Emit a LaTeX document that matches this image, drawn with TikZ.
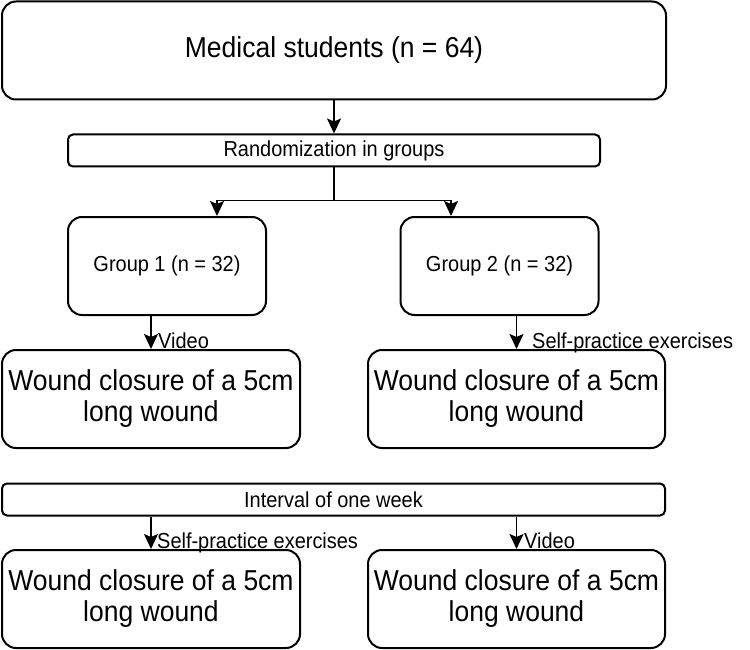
\documentclass[tikz,border=0pt]{standalone}
\usepackage{fontspec}
\setmainfont{Liberation Sans}[FakeStretch=0.92]
\usetikzlibrary{arrows.meta, positioning}
\tikzset{
  flowbox/.style={draw, line width=2pt, rounded corners=14pt, inner sep=0pt,
    align=center, font=\fontsize{28.8}{31}\selectfont},
  groupbox/.style={flowbox, font=\fontsize{21.7}{24}\selectfont},
  thinbox/.style={draw, line width=2pt, rounded corners=5pt, inner sep=0pt,
    font=\fontsize{21.7}{24}\selectfont},
  armlabel/.style={font=\fontsize{21.7}{24}\selectfont, inner sep=0pt, anchor=base west},
  link/.style={-{Stealth[length=15pt 0 0, width=14pt 0 0, inset=3pt 0]}, line width=1.7pt}
}

\begin{document}
\begin{tikzpicture}[x=1pt, y=-1pt]
  \useasboundingbox (0,0) rectangle (750,650);

  % Cohort and randomization
  \node[flowbox, minimum width=664pt, minimum height=98pt] (students) at (334,50.5)
    {Medical students (n = 64)};
  \node[thinbox, minimum width=532pt, minimum height=32pt] (randbox) at (334,150.5)
    {Randomization in groups};
  \draw[link] (students.south) -- (randbox.north);

  % Two groups
  \node[groupbox, minimum width=198pt, minimum height=98pt] (group1) at (167,266)
    {Group 1 (n = 32)};
  \node[groupbox, minimum width=198pt, minimum height=98pt] (group2) at (499.5,266)
    {Group 2 (n = 32)};
  \coordinate (fork) at (334,200.5);
  \draw[line width=1.7pt] (randbox.south) -- (fork);
  \draw[link] (fork) -| ([xshift=50pt]group1.north);
  \draw[link] (fork) -| ([xshift=-48.5pt]group2.north);

  % First wound closure
  \node[flowbox, minimum width=298pt, minimum height=98pt] (wound1) at (151,399)
    {Wound closure of a 5cm\\long wound};
  \node[flowbox, minimum width=297pt, minimum height=98pt] (wound2) at (516.5,399)
    {Wound closure of a 5cm\\long wound};
  \draw[link] (wound1.north |- group1.south) -- (wound1.north);
  \draw[link] (wound2.north |- group2.south) -- (wound2.north);
  \node[armlabel] (video1) at (158,348) {Video};
  \node[armlabel] (self1) at (532,348) {Self-practice exercises};

  % Second wound closure after one week
  \node[thinbox, minimum width=663pt, minimum height=32pt] (interval) at (333.5,499.5)
    {Interval of one week};
  \node[flowbox, minimum width=298pt, minimum height=98pt] (wound3) at (151,599)
    {Wound closure of a 5cm\\long wound};
  \node[flowbox, minimum width=297pt, minimum height=98pt] (wound4) at (516.5,599)
    {Wound closure of a 5cm\\long wound};
  \draw[link] (wound3.north |- interval.south) -- (wound3.north);
  \draw[link] (wound4.north |- interval.south) -- (wound4.north);
  \node[armlabel] (self2) at (157,548) {Self-practice exercises};
  \node[armlabel] (video2) at (524,548) {Video};
\end{tikzpicture}
\end{document}
